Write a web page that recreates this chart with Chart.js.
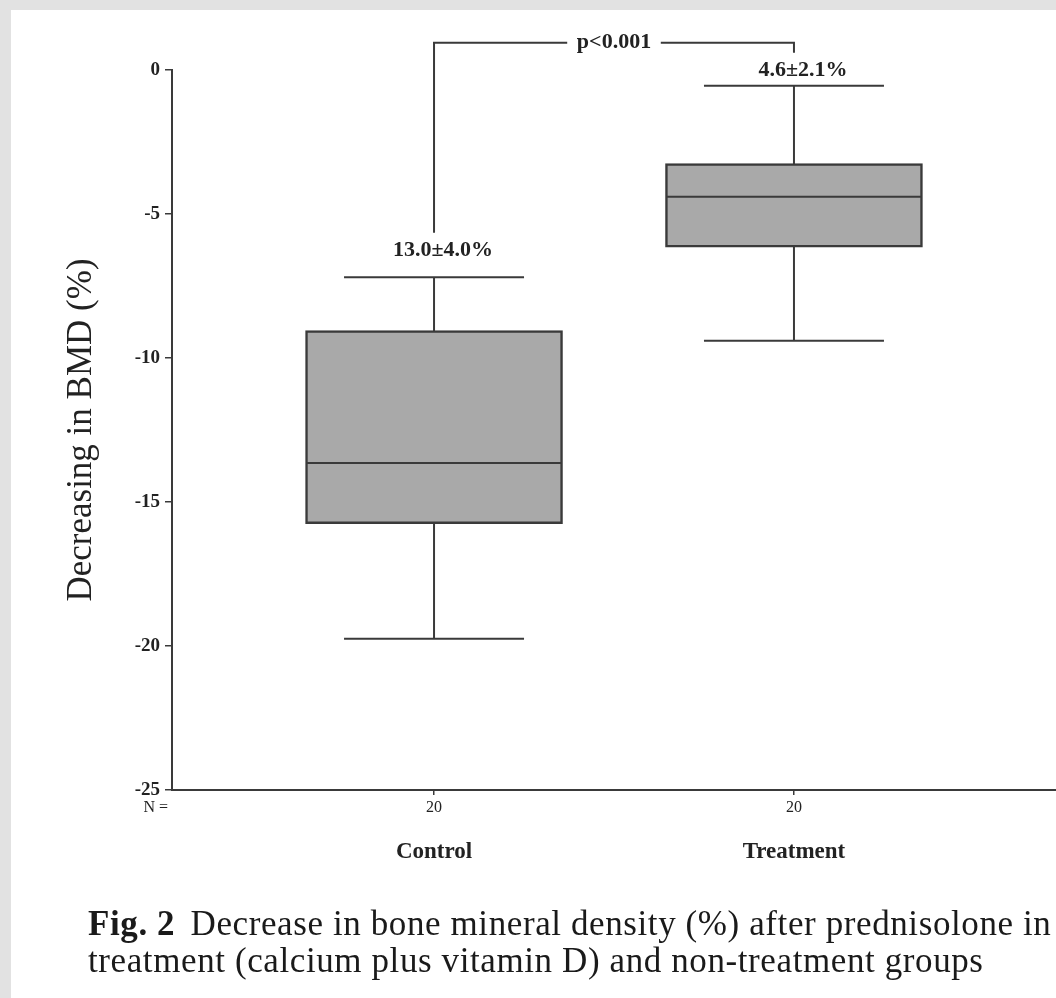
<!DOCTYPE html>
<html>
<head>
<meta charset="utf-8">
<script src="https://cdn.jsdelivr.net/npm/chart.js@4.4.0/dist/chart.umd.min.js"></script>
<style>
html,body{margin:0;padding:0;background:#e2e2e2;width:1056px;height:998px;overflow:hidden;}
#paper{position:absolute;left:11px;top:10px;right:0;bottom:0;background:#fff;}
#wrap{position:absolute;left:0;top:0;width:1056px;height:998px;}
#cap{position:absolute;left:88px;top:905px;font-family:'Liberation Serif','Times New Roman',serif;font-size:35px;line-height:37px;letter-spacing:0.6px;color:#1a1a1a;white-space:nowrap;}
#cap b{margin-right:6px;}
</style>
</head>
<body>
<div id="paper"></div>
<div id="wrap"><canvas id="c" width="1056" height="998"></canvas></div>
<div id="cap"><b>Fig. 2</b> Decrease in bone mineral density (%) after prednisolone in<br>treatment (calcium plus vitamin D) and non-treatment groups</div>
<script>
// ---- data ----
const groups = ['Control', 'Treatment'];
const groupPos = [1, 2];
const nLabels = ['20', '20'];
const whiskerLow = [-19.75, -9.4];
const q1 = [-15.75, -6.15];
const median = [-13.65, -4.4];
const q3 = [-9.05, -3.25];
const whiskerHigh = [-7.2, -0.55];
const meanSdLabels = ['13.0\u00b14.0%', '4.6\u00b12.1%'];
const meanSdLabelY = [-6.25, 0.0];
const yTicks = [0, -5, -10, -15, -20, -25];
const pText = 'p<0.001';
const bracketTop = 0.95;
const bracketEnds = [-5.65, 0.6];
const yTitle = 'Decreasing in BMD (%)';

// ---- styles ----
const DARK = '#3a3a3a';
const FONT = "'Liberation Serif', 'Times New Roman', serif";

const datasets = [];
// whisker stems (behind boxes)
groupPos.forEach((g, i) => {
  datasets.push({
    type: 'line', order: 5,
    data: [{x: g, y: whiskerLow[i]}, {x: g, y: whiskerHigh[i]}],
    borderColor: DARK, borderWidth: 2, pointRadius: 0, tension: 0
  });
});
// boxes
datasets.push({
  type: 'bar', order: 4, grouped: false,
  data: groupPos.map((g, i) => ({x: g, y: [q1[i], q3[i]]})),
  backgroundColor: '#a9a9a9', borderColor: DARK, borderWidth: 2.5,
  borderSkipped: false, barThickness: 257
});
// medians
datasets.push({
  type: 'scatter', order: 1,
  data: groupPos.map((g, i) => ({x: g, y: median[i]})),
  pointStyle: 'line', pointRadius: 127, pointHoverRadius: 127,
  borderColor: DARK, borderWidth: 2
});
// whisker caps
datasets.push({
  type: 'scatter', order: 1,
  data: groupPos.flatMap((g, i) => [{x: g, y: whiskerLow[i]}, {x: g, y: whiskerHigh[i]}]),
  pointStyle: 'line', pointRadius: 90, pointHoverRadius: 90,
  borderColor: DARK, borderWidth: 2
});
// significance bracket
const gapHalf = 0.13;
const mid = (groupPos[0] + groupPos[1]) / 2;
datasets.push({
  type: 'line', order: 1, clip: false,
  data: [{x: groupPos[0], y: bracketEnds[0]}, {x: groupPos[0], y: bracketTop}, {x: mid - gapHalf, y: bracketTop}],
  borderColor: DARK, borderWidth: 2, pointRadius: 0, tension: 0
});
datasets.push({
  type: 'line', order: 1, clip: false,
  data: [{x: mid + gapHalf, y: bracketTop}, {x: groupPos[1], y: bracketTop}, {x: groupPos[1], y: bracketEnds[1]}],
  borderColor: DARK, borderWidth: 2, pointRadius: 0, tension: 0
});

const annot = {
  id: 'annot',
  afterDatasetsDraw(chart) {
    const {ctx, scales: {x, y}} = chart;
    ctx.save();
    ctx.fillStyle = '#222';
    ctx.font = 'bold 22px ' + FONT;
    ctx.textAlign = 'center';
    ctx.textBaseline = 'middle';
    groupPos.forEach((g, i) => {
      ctx.fillText(meanSdLabels[i], x.getPixelForValue(g + 0.025), y.getPixelForValue(meanSdLabelY[i]));
    });
    ctx.fillText(pText, x.getPixelForValue(mid), y.getPixelForValue(bracketTop));
    ctx.font = '16px ' + FONT;
    ctx.textAlign = 'right';
    ctx.fillText('N =', x.left - 4, x.top + 18);
    ctx.restore();
  }
};

new Chart(document.getElementById('c'), {
  type: 'bar',
  data: {datasets},
  options: {
    responsive: false,
    animation: false,
    devicePixelRatio: 1,
    events: [],
    layout: {autoPadding: false, padding: {top: 70, right: 0, left: 0, bottom: 123}},
    plugins: {legend: {display: false}, tooltip: {enabled: false}},
    scales: {
      x: {
        type: 'linear', position: 'bottom', weight: 0, offset: false,
        min: 0.272, max: 2.728,
        afterBuildTicks: s => { s.ticks = groupPos.map(v => ({value: v})); },
        afterFit: s => { s.height = 35; },
        ticks: {
          autoSkip: false, maxRotation: 0, padding: 3, color: '#222',
          font: {family: FONT, size: 16},
          callback: v => nLabels[groupPos.indexOf(v)]
        },
        grid: {drawOnChartArea: false, offset: false, tickLength: 5, color: DARK, lineWidth: 1.5},
        border: {display: true, color: DARK, width: 2}
      },
      x2: {
        type: 'linear', position: 'bottom', weight: 1, offset: false,
        min: 0.272, max: 2.728,
        afterBuildTicks: s => { s.ticks = groupPos.map(v => ({value: v})); },
        afterFit: s => { s.height = 50; },
        ticks: {
          autoSkip: false, maxRotation: 0, padding: 13, color: '#222',
          font: {family: FONT, size: 23, weight: 'bold'},
          callback: v => groups[groupPos.indexOf(v)]
        },
        grid: {display: false, drawTicks: false, offset: false},
        border: {display: false}
      },
      y: {
        type: 'linear', position: 'left',
        min: -25, max: 0,
        afterBuildTicks: s => { s.ticks = yTicks.map(v => ({value: v})); },
        afterFit: s => { s.width = 172; },
        ticks: {
          padding: 5, color: '#222',
          font: {family: FONT, size: 19, weight: 'bold'},
          callback: v => String(v)
        },
        grid: {drawOnChartArea: false, tickLength: 7, color: DARK, lineWidth: 1.5},
        border: {display: true, color: DARK, width: 2},
        title: {
          display: true, text: yTitle, color: '#222',
          font: {family: FONT, size: 35, weight: 'normal'},
          padding: {top: 61, bottom: 0}
        }
      }
    }
  },
  plugins: [annot]
});
</script>
</body>
</html>
